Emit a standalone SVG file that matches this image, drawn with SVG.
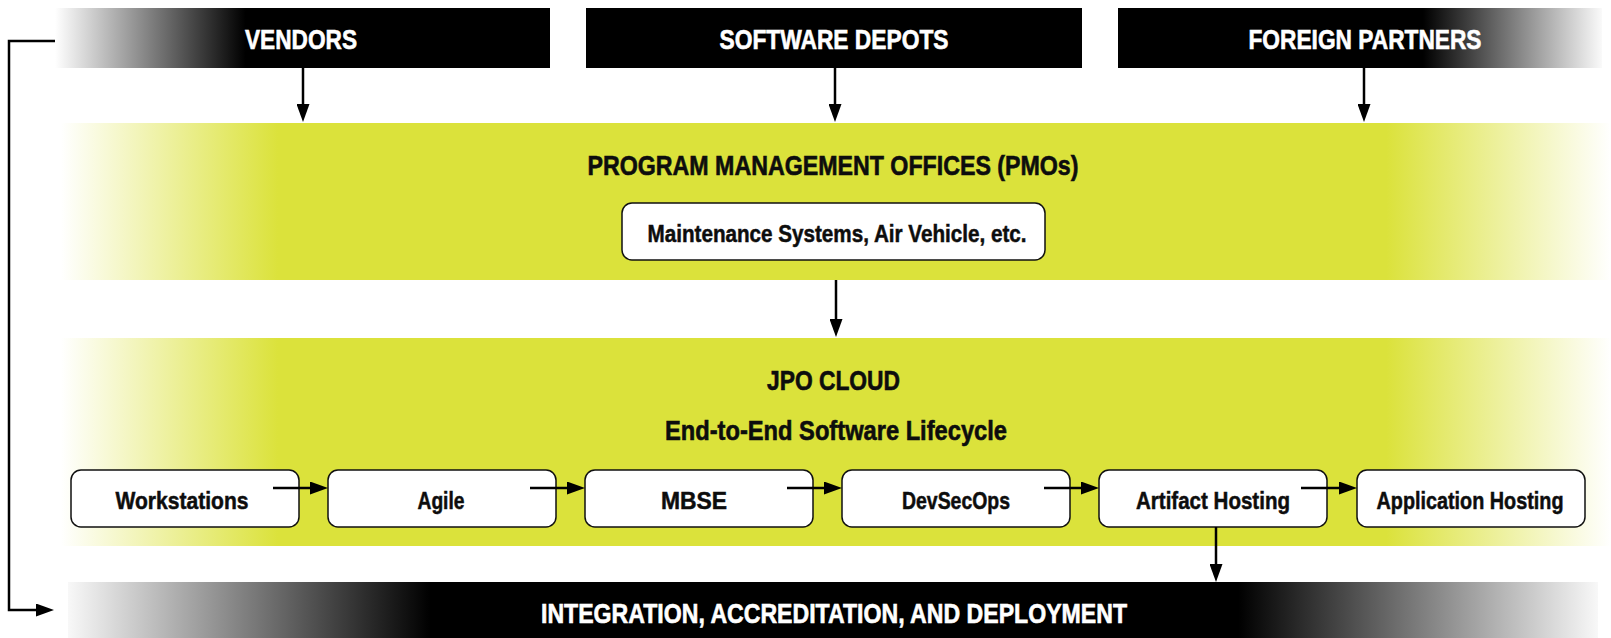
<svg xmlns="http://www.w3.org/2000/svg" width="1611" height="638" viewBox="0 0 1611 638">
  <style>
    .hd { font-family: "Liberation Sans", Arial, sans-serif; font-weight: 700; font-size: 27px; text-anchor: middle; stroke-width: 0.6; }
    .hd-w { fill: #ffffff; stroke: #ffffff; }
    .hd-k { fill: #0d0d0d; stroke: #0d0d0d; }
    .nd { font-family: "Liberation Sans", Arial, sans-serif; font-weight: 700; font-size: 24px; text-anchor: middle; fill: #0d0d0d; stroke: #0d0d0d; stroke-width: 0.5; }
    .box { fill: #ffffff; stroke: #111111; stroke-width: 1.5; }
    .wire { fill: none; stroke: #000000; stroke-width: 2.5; marker-end: url(#head); }
  </style>
  <defs>
    <marker id="head" markerUnits="userSpaceOnUse" markerWidth="18" markerHeight="13" refX="2" refY="6.5" orient="auto">
      <path d="M0,0 L18,6.5 L0,13 Z" fill="#000000"/>
    </marker>
    <!-- black bar fading to white on its left end -->
    <linearGradient id="fadeLeftBlack" x1="0" y1="0" x2="1" y2="0">
      <stop offset="0" stop-color="#ffffff"/>
      <stop offset="0.385" stop-color="#000000"/>
      <stop offset="1" stop-color="#000000"/>
    </linearGradient>
    <!-- black bar fading to white on its right end -->
    <linearGradient id="fadeRightBlack" x1="0" y1="0" x2="1" y2="0">
      <stop offset="0" stop-color="#000000"/>
      <stop offset="0.63" stop-color="#000000"/>
      <stop offset="1" stop-color="#fafafa"/>
    </linearGradient>
    <!-- black bar fading at both ends -->
    <linearGradient id="fadeBothBlack" x1="0" y1="0" x2="1" y2="0">
      <stop offset="0" stop-color="#f8f8f8"/>
      <stop offset="0.237" stop-color="#000000"/>
      <stop offset="0.765" stop-color="#000000"/>
      <stop offset="1" stop-color="#f8f8f8"/>
    </linearGradient>
    <!-- lime band fading at both ends -->
    <linearGradient id="lime" x1="0" y1="0" x2="1" y2="0">
      <stop offset="0" stop-color="#dbe23b" stop-opacity="0"/>
      <stop offset="0.14" stop-color="#dbe23b"/>
      <stop offset="0.855" stop-color="#dbe23b"/>
      <stop offset="1" stop-color="#dbe23b" stop-opacity="0"/>
    </linearGradient>
  </defs>

  <rect x="0" y="0" width="1611" height="638" fill="#ffffff"/>

  <!-- sources -->
  <g id="vendors">
    <rect x="55" y="8" width="495" height="60" fill="url(#fadeLeftBlack)"/>
    <text class="hd hd-w" x="301" y="49" textLength="112" lengthAdjust="spacingAndGlyphs">VENDORS</text>
  </g>
  <g id="software-depots">
    <rect x="586" y="8" width="496" height="60" fill="#000000"/>
    <text class="hd hd-w" x="834" y="49" textLength="229" lengthAdjust="spacingAndGlyphs">SOFTWARE DEPOTS</text>
  </g>
  <g id="foreign-partners">
    <rect x="1118" y="8" width="484" height="60" fill="url(#fadeRightBlack)"/>
    <text class="hd hd-w" x="1365" y="49" textLength="233" lengthAdjust="spacingAndGlyphs">FOREIGN PARTNERS</text>
  </g>

  <!-- program management offices -->
  <g id="pmo">
    <rect x="61" y="123" width="1550" height="157" fill="url(#lime)"/>
    <text class="hd hd-k" x="833" y="175" font-size="28" textLength="491" lengthAdjust="spacingAndGlyphs">PROGRAM MANAGEMENT OFFICES (PMOs)</text>
  </g>
  <g id="pmo-examples">
    <rect class="box" x="622" y="203" width="423" height="57" rx="10"/>
    <text class="nd" x="837" y="242" textLength="379" lengthAdjust="spacingAndGlyphs">Maintenance Systems, Air Vehicle, etc.</text>
  </g>

  <!-- JPO cloud lifecycle -->
  <g id="jpo-cloud">
    <rect x="61" y="338" width="1550" height="208" fill="url(#lime)"/>
    <text class="hd hd-k" x="833.5" y="390" textLength="133" lengthAdjust="spacingAndGlyphs">JPO CLOUD</text>
    <text class="hd hd-k" x="836" y="440" textLength="342" lengthAdjust="spacingAndGlyphs">End-to-End Software Lifecycle</text>
  </g>
  <g id="workstations">
    <rect class="box" x="71" y="470" width="228" height="57" rx="10"/>
    <text class="nd" x="182" y="509" textLength="133" lengthAdjust="spacingAndGlyphs">Workstations</text>
  </g>
  <g id="agile">
    <rect class="box" x="328" y="470" width="228" height="57" rx="10"/>
    <text class="nd" x="441" y="509" textLength="47" lengthAdjust="spacingAndGlyphs">Agile</text>
  </g>
  <g id="mbse">
    <rect class="box" x="585" y="470" width="228" height="57" rx="10"/>
    <text class="nd" x="694" y="509" textLength="66" lengthAdjust="spacingAndGlyphs">MBSE</text>
  </g>
  <g id="devsecops">
    <rect class="box" x="842" y="470" width="228" height="57" rx="10"/>
    <text class="nd" x="956" y="509" textLength="108" lengthAdjust="spacingAndGlyphs">DevSecOps</text>
  </g>
  <g id="artifact-hosting">
    <rect class="box" x="1099" y="470" width="228" height="57" rx="10"/>
    <text class="nd" x="1213" y="509" textLength="154" lengthAdjust="spacingAndGlyphs">Artifact Hosting</text>
  </g>
  <g id="application-hosting">
    <rect class="box" x="1357" y="470" width="228" height="57" rx="10"/>
    <text class="nd" x="1470" y="509" textLength="187" lengthAdjust="spacingAndGlyphs">Application Hosting</text>
  </g>

  <!-- destination -->
  <g id="integration">
    <rect x="68" y="582" width="1530" height="56" fill="url(#fadeBothBlack)"/>
    <text class="hd hd-w" x="834" y="623" textLength="586" lengthAdjust="spacingAndGlyphs">INTEGRATION, ACCREDITATION, AND DEPLOYMENT</text>
  </g>

  <!-- connectors: line ends sit 16px short of each arrow tip -->
  <g id="connectors">
    <line class="wire" x1="303" y1="68" x2="303" y2="106"/>
    <line class="wire" x1="835" y1="68" x2="835" y2="106"/>
    <line class="wire" x1="1364" y1="68" x2="1364" y2="106"/>
    <line class="wire" x1="836" y1="280" x2="836" y2="321"/>
    <line class="wire" x1="273" y1="488" x2="312" y2="488"/>
    <line class="wire" x1="530" y1="488" x2="569" y2="488"/>
    <line class="wire" x1="787" y1="488" x2="826" y2="488"/>
    <line class="wire" x1="1044" y1="488" x2="1083" y2="488"/>
    <line class="wire" x1="1301" y1="488" x2="1341" y2="488"/>
    <line class="wire" x1="1216" y1="527" x2="1216" y2="566"/>
    <path class="wire" d="M55,41 H9 V610 H38"/>
  </g>
</svg>
